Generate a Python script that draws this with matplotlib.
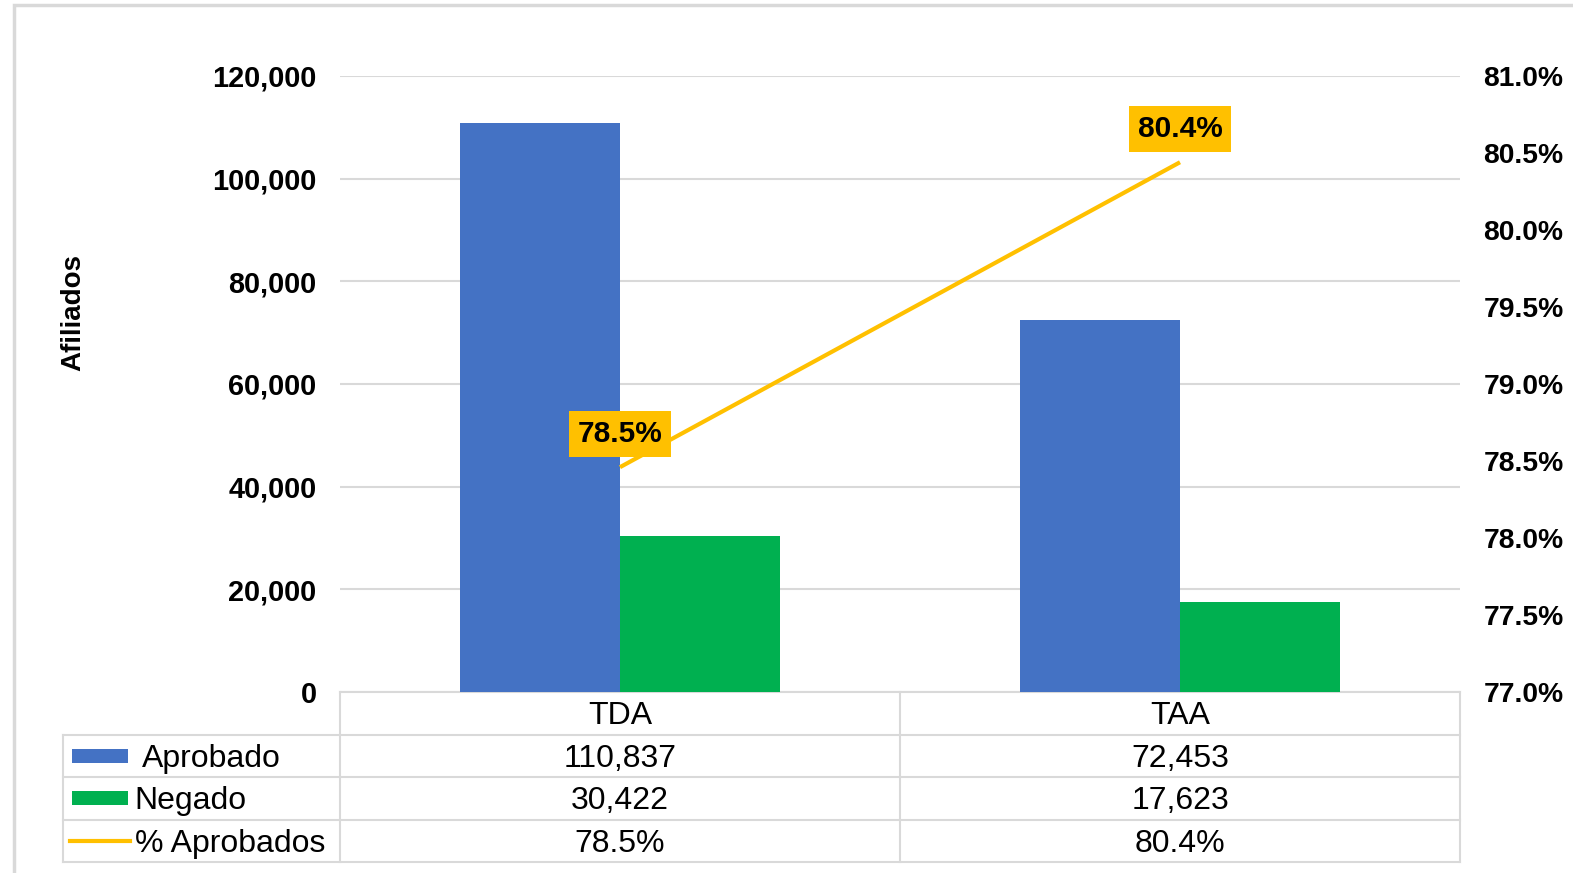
import matplotlib.pyplot as plt
from matplotlib.patches import Rectangle
from matplotlib.lines import Line2D
import matplotlib.transforms as mtransforms
import numpy as np

plt.rcParams['font.family'] = ['Liberation Sans', 'DejaVu Sans']

categorias = ['TDA', 'TAA']
aprobado = [110837, 72453]
negado = [30422, 17623]
pct_aprobados = [78.46, 80.44]
pct_labels = ['78.5%', '80.4%']
series = ['Aprobado', 'Negado', '% Aprobados']

azul = '#4472C4'
verde = '#00B050'
amarillo = '#FFC000'
gris = '#D9D9D9'

fig = plt.figure(figsize=(15.73, 8.73), dpi=100)
ax = fig.add_axes([340 / 1573, 1 - 692 / 873, 1120 / 1573, 616 / 873])

# borde del grafico
fig.patches.append(Rectangle((14 / 1573, -0.1), 1.2, (873 - 5) / 873 + 0.1,
                             transform=fig.transFigure, fill=False,
                             edgecolor=gris, linewidth=2.5))

x = np.arange(len(categorias))
w = 160 / 560
ax.bar(x - w / 2, aprobado, w, color=azul, zorder=3)
ax.bar(x + w / 2, negado, w, color=verde, zorder=3)

ax.set_xlim(-0.5, 1.5)
ax.set_ylim(0, 120000)
ax.set_yticks(np.arange(0, 120001, 20000))
ax.set_yticklabels([f'{v:,}' for v in range(0, 120001, 20000)],
                   fontsize=20.8, fontweight='bold')
ax.tick_params(axis='y', length=0, pad=17)
ax.set_xticks([])
ax.grid(axis='y', color=gris, linewidth=1.5, zorder=0)
for s in ax.spines.values():
    s.set_visible(False)
ax.set_ylabel('Afiliados', fontsize=20, fontweight='bold')
ax.yaxis.set_label_coords((86 - 340) / 1120, (692 - 313) / 616)

ax2 = ax.twinx()
ax2.set_ylim(77.0, 81.0)
ticks2 = np.arange(77.0, 81.01, 0.5)
ax2.set_yticks(ticks2)
ax2.set_yticklabels([f'{t:.1f}%' for t in ticks2], fontsize=20.3, fontweight='bold')
ax2.tick_params(axis='y', length=0, pad=17)
for s in ax2.spines.values():
    s.set_visible(False)
ax2.plot(x, pct_aprobados, color=amarillo, linewidth=3, solid_capstyle='butt', zorder=4)
for xi, yi, lab in zip(x, pct_aprobados, pct_labels):
    ax2.annotate(lab, (xi, yi), xytext=(0, 24), textcoords='offset points',
                 ha='center', va='center', fontsize=21.5, fontweight='bold',
                 bbox=dict(boxstyle='square,pad=0.3', facecolor=amarillo,
                           edgecolor='none'))

# tabla de datos
h = 42.5 / 616
dy = 3 / 616
left = (63 - 340) / 1120
ta = ax.transAxes
blend = mtransforms.blended_transform_factory(ax.transData, ax.transAxes)
kw = dict(color=gris, linewidth=1.5, transform=ta, clip_on=False)
ax.add_line(Line2D([0, 1], [0, 0], **kw))
for i in range(1, 5):
    ax.add_line(Line2D([left, 1], [-i * h, -i * h], **kw))
ax.add_line(Line2D([left, left], [-h, -4 * h], **kw))
for xv in [0, 0.5, 1]:
    ax.add_line(Line2D([xv, xv], [0, -4 * h], **kw))

for xi, cat in zip(x, categorias):
    ax.text(xi, -0.5 * h - dy, cat, transform=blend, ha='center', va='center',
            fontsize=23)
filas = [[f'{v:,}' for v in aprobado], [f'{v:,}' for v in negado], pct_labels]
for r, fila in enumerate(filas):
    for xi, val in zip(x, fila):
        ax.text(xi, -(r + 1.5) * h - dy, val, transform=blend, ha='center',
                va='center', fontsize=23)

# claves de leyenda
kx0 = (72 - 340) / 1120
kx1 = (128 - 340) / 1120
kh = 14 / 616
for r, col in enumerate([azul, verde]):
    yc = -(r + 1.5) * h
    ax.add_patch(Rectangle((kx0, yc - kh / 2), kx1 - kx0, kh, facecolor=col,
                           edgecolor='none', transform=ta, clip_on=False))
ax.add_line(Line2D([(70 - 340) / 1120, (130 - 340) / 1120], [-3.5 * h, -3.5 * h],
                   color=amarillo, linewidth=3, transform=ta, clip_on=False))
text_x = [(142 - 340) / 1120, (134 - 340) / 1120, (135 - 340) / 1120]
for r, (s, tx) in enumerate(zip(series, text_x)):
    ax.text(tx, -(r + 1.5) * h - dy, s, transform=ta, ha='left', va='center',
            fontsize=23)

fig.savefig('out.png', dpi=100)
